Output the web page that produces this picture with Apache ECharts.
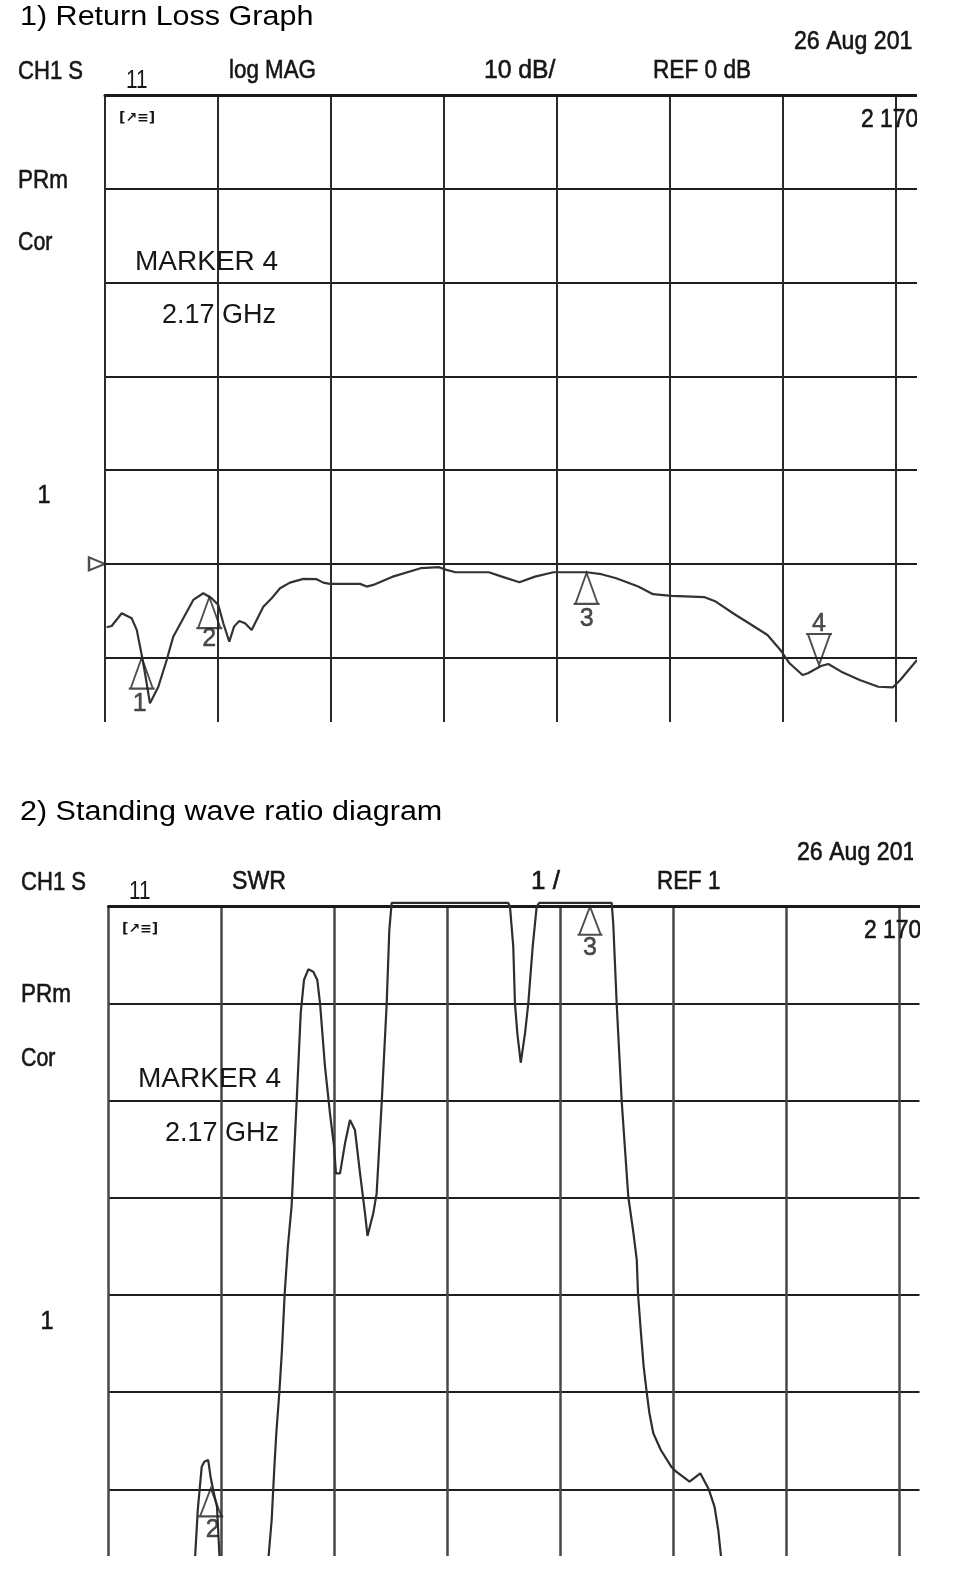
<!DOCTYPE html>
<html><head><meta charset="utf-8">
<script src="https://cdn.jsdelivr.net/npm/echarts@6/dist/echarts.min.js"></script>
<style>html,body{margin:0;padding:0;background:#fff;}#c{width:958px;height:1584px;}</style>
</head><body><div id="c"></div>
<script>
// ---------- Chart 1: Return loss, log MAG 10 dB/div, REF 0 dB (x in graticule divisions) ----------
const rlX = [0.015,0.059,0.148,0.236,0.281,0.325,0.354,0.398,0.472,0.546,0.604,0.693,0.781,0.870,0.944,1.003,1.047,1.100,1.142,1.188,1.239,1.298,1.342,1.401,1.475,1.549,1.637,1.755,1.873,1.932,1.991,2.257,2.316,2.374,2.540,2.793,2.956,3.021,3.103,3.397,3.512,3.668,3.805,3.968,4.262,4.393,4.524,4.719,4.850,5.013,5.307,5.405,5.568,5.699,5.863,5.977,6.058,6.173,6.221,6.336,6.401,6.516,6.679,6.843,6.973,7.038,7.186];
const rlDb = [-6.76,-6.62,-5.26,-5.80,-7.04,-9.71,-11.66,-14.87,-13.10,-10.25,-7.76,-5.80,-3.84,-3.13,-3.66,-4.38,-6.33,-8.29,-6.69,-6.08,-6.33,-7.04,-5.98,-4.56,-3.66,-2.59,-2.00,-1.60,-1.63,-2.00,-2.13,-2.13,-2.42,-2.24,-1.39,-0.46,-0.35,-0.64,-0.89,-0.89,-1.36,-1.95,-1.36,-0.89,-0.89,-1.10,-1.53,-2.42,-3.23,-3.42,-3.55,-4.02,-5.34,-6.33,-7.58,-9.18,-10.60,-11.85,-11.66,-10.89,-10.67,-11.49,-12.38,-13.10,-13.16,-12.38,-10.25];
const rlMarkNames = ['1','2','3','4'];
const rlMarkX = [0.325,0.923,4.262,6.319];
const rlMarkDb = [-10.0,-3.55,-0.96,-10.78];
const rlRefDb = 0;

// ---------- Chart 2: SWR, 1 /div, REF 1 ----------
const swrX = [0.767,0.790,0.825,0.848,0.882,0.903,0.926,0.960,0.982,1.200,1.417,1.444,1.468,1.485,1.512,1.535,1.559,1.587,1.620,1.665,1.701,1.730,1.768,1.812,1.848,1.872,1.916,1.960,1.996,2.013,2.049,2.093,2.137,2.181,2.226,2.270,2.292,2.343,2.373,2.418,2.462,2.485,2.506,3.538,3.553,3.582,3.597,3.618,3.648,3.686,3.715,3.754,3.789,3.812,4.453,4.467,4.497,4.542,4.600,4.642,4.675,4.686,4.712,4.736,4.763,4.787,4.821,4.888,4.980,5.024,5.142,5.237,5.312,5.363,5.396,5.420];
const swrVal = [4.313,4.787,5.233,5.284,5.302,5.130,4.993,4.821,4.313,null,4.313,4.684,5.233,5.577,5.999,6.435,7.011,7.498,7.910,8.990,9.905,10.245,10.355,10.331,10.245,10.005,9.352,8.872,8.528,8.254,8.254,8.563,8.803,8.700,8.254,7.842,7.609,7.842,8.048,8.990,10.005,10.760,11.04,11.04,11.0,10.588,10.005,9.696,9.393,9.696,10.005,10.588,11.0,11.04,11.04,10.822,10.005,8.990,8.013,7.670,7.362,7.011,6.610,6.263,5.999,5.783,5.577,5.405,5.233,5.181,5.078,5.165,5.000,4.821,4.581,4.313];
const swrMarkNames = ['2','3'];
const swrMarkX = [0.905,4.261];
const swrMarkVal = [5.01,11.0];

const FONT = '"Liberation Sans", Arial, sans-serif';
const INK = '#161616';
const TRI = 'path://M14,0L26,30L2,30ZM0,30L28,30';

function pairs(xs, ys){ return xs.map((x,i)=>[x, ys[i]==null ? '-' : ys[i]]); }

function txt(text, x, y, size, sx, opt){
  opt = opt || {};
  const fill = opt.fill || INK;
  const st = { text:text, font:(opt.weight||'normal')+' '+size+'px '+(opt.family||FONT), fill:fill,
      textAlign:opt.align||'left', textVerticalAlign:'middle', align:opt.align||'left', verticalAlign:'middle' };
  if (!opt.plain) { st.stroke = fill; st.lineWidth = 0.6; }
  return { type:'text', x:x, y:y, scaleX:sx, z:50, style:st };
}

const chart = echarts.init(document.getElementById('c'), null, {renderer:'canvas', width:958, height:1584});

function xAx(grid, max, vColor, vWidth){
  return { type:'value', gridIndex:grid, min:0, max:max, interval:1, position:'top',
    axisLine:{show:true, onZero:false, lineStyle:{color:'#1a1a1a', width:3}},
    axisTick:{show:false}, axisLabel:{show:false},
    splitLine:{show:true, showMaxLine:false, lineStyle:{color:vColor, width:vWidth}} };
}
function yAx(grid, min, max, step){
  return { type:'value', gridIndex:grid, min:min, max:max, splitNumber:7, minInterval:step, maxInterval:step,
    axisLine:{show:false}, axisTick:{show:false}, axisLabel:{show:false},
    splitLine:{show:true, showMinLine:false, lineStyle:{color:'#1e1e1e', width:2}} };
}

function markerSeries(grid, names, xs, ys, size, down){
  return { type:'scatter', xAxisIndex:grid, yAxisIndex:grid, clip:false, silent:true, z:4,
    symbol:TRI, symbolSize:size,
    itemStyle:{color:'rgba(0,0,0,0)', borderColor:'#222', borderWidth:2},
    data: names.map((n,i)=>{
      const d = down && down[i];
      return { name:n, value:[xs[i], ys[i]], symbolRotate: d?180:0, symbolOffset:[0, d?'-50%':'50%'] };
    }) };
}
function markerLabels(grid, names, xs, ys, offs){
  return { type:'scatter', xAxisIndex:grid, yAxisIndex:grid, clip:false, silent:true, z:5,
    symbolSize:1, itemStyle:{color:'rgba(0,0,0,0)'},
    label:{show:true, position:'inside', formatter:'{b}', fontSize:25, fontFamily:FONT, color:'#222',
      textBorderColor:'#222', textBorderWidth:0.5},
    data: names.map((n,i)=>({ name:n, value:[xs[i], ys[i]], label:{offset:offs[i]} })) };
}

const option = {
  animation:false,
  backgroundColor:'#ffffff',
  grid:[
    {left:105, top:95, width:812, height:627},
    {left:108.5, top:906.7, width:811, height:649.3}
  ],
  xAxis:[ xAx(0, 7.186, '#2b2b2b', 2), xAx(1, 7.177, '#474747', 2.5) ],
  yAxis:[ yAx(0, -16.86, 50, 10), yAx(1, 4.313, 11, 1) ],
  series:[
    { type:'line', xAxisIndex:0, yAxisIndex:0, data:pairs(rlX, rlDb), symbol:'none', clip:false, z:3,
      lineStyle:{color:'#333333', width:2.2} },
    markerSeries(0, rlMarkNames, rlMarkX, rlMarkDb, [26,31], [false,false,false,true]),
    markerLabels(0, rlMarkNames, rlMarkX, rlMarkDb, [[-2,46],[0,42],[0,46],[0,-41]]),
    { type:'scatter', xAxisIndex:0, yAxisIndex:0, clip:false, silent:true, data:[[0, rlRefDb]],
      symbol:'triangle', symbolSize:[13,16], symbolRotate:-90, symbolOffset:[-8,0],
      itemStyle:{color:'rgba(0,0,0,0)', borderColor:'#222', borderWidth:2.2} },
    { type:'line', xAxisIndex:1, yAxisIndex:1, data:pairs(swrX, swrVal), symbol:'none', clip:false, z:3,
      connectNulls:false, lineStyle:{color:'#2e2e2e', width:2.2} },
    markerSeries(1, swrMarkNames, swrMarkX, swrMarkVal, [25,28], [false,false]),
    markerLabels(1, swrMarkNames, swrMarkX, swrMarkVal, [[2,42],[0,41]])
  ],
  graphic:{ elements:[
    txt('1) Return Loss Graph', 20, 18, 27, 1.13, {fill:'#000', plain:true}),
    txt('26 Aug 2017', 794, 42, 26, 0.89),
    txt('CH1 S', 18, 72, 26, 0.85),
    txt('11', 126, 80.5, 26, 0.8, {plain:true}),
    txt('log MAG', 229, 71, 26, 0.86),
    txt('10 dB/', 484, 71, 26, 0.95),
    txt('REF 0 dB', 653, 71, 26, 0.87),
    txt('[\u2197\u2261]', 119, 118, 14, 1, {weight:'bold', family:'"DejaVu Sans", sans-serif', plain:true}),
    txt('2 170', 861, 120, 26, 0.88),
    txt('PRm', 18, 181, 26, 0.865),
    txt('Cor', 18, 243, 26, 0.82),
    txt('MARKER 4', 135, 262, 28, 1, {plain:true}),
    txt('2.17 GHz', 162, 316, 27, 1, {plain:true}),
    txt('1', 44, 496, 26, 0.9, {align:'center'}),

    txt('2) Standing wave ratio diagram', 20, 813, 27, 1.13, {fill:'#000', plain:true}),
    txt('26 Aug 2017', 797, 853, 26, 0.89),
    txt('CH1 S', 21, 883, 26, 0.85),
    txt('11', 129, 891.5, 26, 0.8, {plain:true}),
    txt('SWR', 232, 882, 26, 0.89),
    txt('1 /', 531, 882, 26, 1.0),
    txt('REF 1', 657, 882, 26, 0.86),
    txt('[\u2197\u2261]', 122, 929.5, 14, 1, {weight:'bold', family:'"DejaVu Sans", sans-serif', plain:true}),
    txt('2 170', 864, 931, 26, 0.88),
    txt('PRm', 21, 995, 26, 0.865),
    txt('Cor', 21, 1059, 26, 0.82),
    txt('MARKER 4', 138, 1079, 28, 1, {plain:true}),
    txt('2.17 GHz', 165, 1134, 27, 1, {plain:true}),
    txt('1', 47, 1322, 26, 0.9, {align:'center'}),

    // crop of the original screen captures at their right edge
    { type:'rect', z:100, shape:{x:917, y:0, width:45, height:770}, style:{fill:'#fff'} },
    { type:'rect', z:100, shape:{x:920, y:770, width:40, height:820}, style:{fill:'#fff'} },
    { type:'rect', z:100, shape:{x:912, y:22, width:48, height:38}, style:{fill:'#fff'} },
    { type:'rect', z:100, shape:{x:913, y:832, width:48, height:38}, style:{fill:'#fff'} }
  ]}
};
chart.setOption(option);
</script></body></html>
